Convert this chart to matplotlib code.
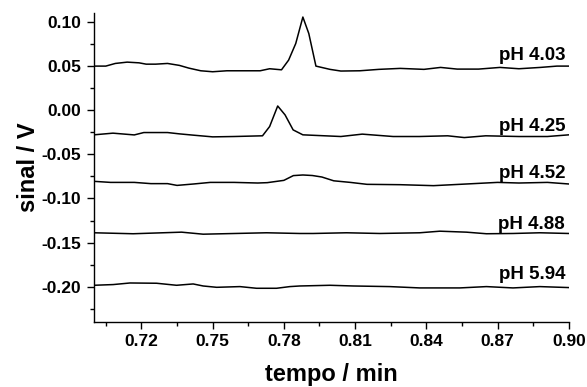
import matplotlib.pyplot as plt
from matplotlib.ticker import MultipleLocator, FormatStrFormatter

plt.rcParams['font.family'] = ['Liberation Sans', 'DejaVu Sans']
plt.rcParams['font.weight'] = 'bold'

# electropherogram traces at each pH (tempo in min, sinal in V)
t_403 = [0.700, 0.705, 0.709, 0.714, 0.719, 0.722, 0.726, 0.731, 0.736, 0.740,
         0.745, 0.750, 0.756, 0.764, 0.770, 0.774, 0.779, 0.782, 0.785, 0.788,
         0.7905, 0.7935, 0.7994, 0.804, 0.812, 0.820, 0.829, 0.839, 0.846, 0.853,
         0.862, 0.871, 0.879, 0.888, 0.895, 0.900]
s_403 = [0.0500, 0.0500, 0.0530, 0.0545, 0.0537, 0.0522, 0.0522, 0.0530, 0.0508, 0.0477,
         0.0447, 0.0436, 0.0447, 0.0447, 0.0447, 0.0470, 0.0458, 0.0568, 0.0756, 0.1056,
         0.0869, 0.0500, 0.0463, 0.0444, 0.0447, 0.0463, 0.0474, 0.0463, 0.0485, 0.0466,
         0.0466, 0.0485, 0.0470, 0.0485, 0.0500, 0.0500]

t_425 = [0.700, 0.708, 0.717, 0.721, 0.731, 0.736, 0.742, 0.750, 0.759, 0.771,
         0.774, 0.7774, 0.7805, 0.7839, 0.788, 0.804, 0.813, 0.826, 0.837, 0.849,
         0.856, 0.865, 0.879, 0.891, 0.900]
s_425 = [-0.0279, -0.0260, -0.0280, -0.0253, -0.0253, -0.0268, -0.0283, -0.0302, -0.0298, -0.0290,
         -0.0185, 0.0048, -0.0053, -0.0223, -0.0279, -0.0298, -0.0271, -0.0298, -0.0298, -0.0290,
         -0.0310, -0.0290, -0.0298, -0.0298, -0.0279]

t_452 = [0.700, 0.707, 0.717, 0.724, 0.731, 0.735, 0.742, 0.749, 0.759, 0.769,
         0.773, 0.780, 0.784, 0.788, 0.792, 0.796, 0.801, 0.808, 0.815, 0.829,
         0.843, 0.857, 0.870, 0.879, 0.891, 0.900]
s_452 = [-0.0806, -0.0818, -0.0818, -0.0832, -0.0832, -0.0852, -0.0836, -0.0818, -0.0818, -0.0825,
         -0.0821, -0.0795, -0.0741, -0.0734, -0.0740, -0.0757, -0.0800, -0.0818, -0.0840, -0.0844,
         -0.0855, -0.0836, -0.0818, -0.0825, -0.0818, -0.0836]

t_488 = [0.700, 0.7165, 0.7369, 0.746, 0.7727, 0.7867, 0.7923, 0.8064, 0.8204, 0.8372,
         0.8457, 0.8569, 0.8653, 0.8765, 0.8878, 0.900]
s_488 = [-0.1389, -0.1400, -0.1382, -0.1405, -0.1389, -0.1397, -0.1397, -0.1389, -0.1397, -0.1389,
         -0.1371, -0.1382, -0.1400, -0.1397, -0.1389, -0.1397]

t_594 = [0.700, 0.7081, 0.7152, 0.7264, 0.7348, 0.7418, 0.746, 0.7517, 0.7615, 0.7685,
         0.7769, 0.7825, 0.7867, 0.7994, 0.8092, 0.8246, 0.8372, 0.8541, 0.8653, 0.8765,
         0.8878, 0.900]
s_594 = [-0.1984, -0.1976, -0.1958, -0.1961, -0.1984, -0.1969, -0.1992, -0.2007, -0.1999, -0.2018,
         -0.2018, -0.1999, -0.1992, -0.1984, -0.1992, -0.1999, -0.2014, -0.2014, -0.1999, -0.2014,
         -0.1999, -0.2010]

labels = ['pH 4.03', 'pH 4.25', 'pH 4.52', 'pH 4.88', 'pH 5.94']
label_y = [0.0624, -0.0180, -0.0712, -0.1296, -0.1862]

fig = plt.figure(figsize=(5.87, 3.87), dpi=100)
ax = fig.add_axes([0.160, 0.168, 0.809, 0.798])

for t, s in [(t_403, s_403), (t_425, s_425), (t_452, s_452), (t_488, s_488), (t_594, s_594)]:
    ax.plot(t, s, color='black', lw=1.1)

for lab, y in zip(labels, label_y):
    ax.text(0.8985, y, lab, ha='right', va='center', fontsize=13.5, fontweight='bold')

ax.set_xlim(0.70, 0.90)
ax.set_ylim(-0.24, 0.11)
ax.xaxis.set_major_locator(MultipleLocator(0.03))
ax.xaxis.set_minor_locator(MultipleLocator(0.015))
ax.yaxis.set_major_locator(MultipleLocator(0.05))
ax.yaxis.set_minor_locator(MultipleLocator(0.025))
ax.xaxis.set_major_formatter(FormatStrFormatter('%.2f'))
ax.yaxis.set_major_formatter(FormatStrFormatter('%.2f'))
ax.set_xticks([0.72, 0.75, 0.78, 0.81, 0.84, 0.87, 0.90])

ax.spines['top'].set_visible(False)
ax.spines['right'].set_visible(False)
for sp in ['left', 'bottom']:
    ax.spines[sp].set_linewidth(1.0)
ax.tick_params(which='major', direction='out', length=5, width=1.0, labelsize=12.5, pad=4)
ax.tick_params(which='minor', direction='out', length=3, width=1.0)
for lbl in ax.get_xticklabels() + ax.get_yticklabels():
    lbl.set_fontweight('bold')

ax.set_xlabel('tempo / min', fontsize=17, fontweight='bold', labelpad=10)
ax.set_ylabel('sinal / V', fontsize=17, fontweight='bold', labelpad=1)

fig.savefig('out.png', dpi=100)
